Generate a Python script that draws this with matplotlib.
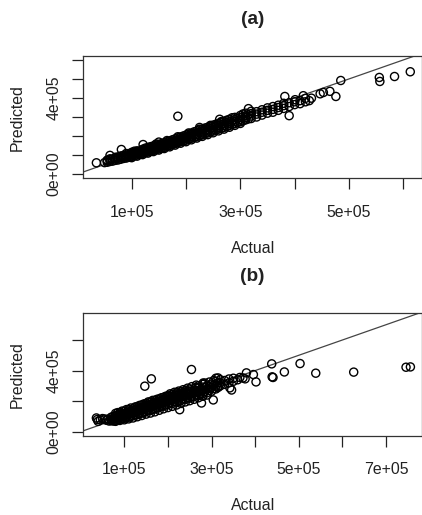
import numpy as np
import matplotlib
matplotlib.use("Agg")
import matplotlib.pyplot as plt

plt.rcParams['font.family'] = ['Liberation Sans', 'DejaVu Sans']

# values, in thousands (actual, predicted)
band_a = [
    (50, 60), (55, 62), (55, 70), (60, 66), (60, 75), (60, 80), (65, 68), (65, 78),
    (70, 72), (70, 80), (70, 88), (75, 74), (75, 84), (75, 90),
    (80, 78), (80, 86), (80, 95), (85, 82), (85, 90), (85, 98),
    (90, 84), (90, 92), (90, 100), (90, 108), (95, 88), (95, 96), (95, 104),
    (100, 92), (100, 100), (100, 108), (100, 114), (105, 96), (105, 104), (105, 112),
    (110, 100), (110, 108), (110, 116), (110, 122), (115, 104), (115, 112), (115, 120),
    (120, 108), (120, 116), (120, 124), (120, 130), (125, 112), (125, 120), (125, 128),
    (130, 116), (130, 124), (130, 132), (130, 140), (135, 120), (135, 128), (135, 136), (135, 144),
    (140, 124), (140, 132), (140, 140), (140, 148), (145, 128), (145, 136), (145, 144), (145, 152),
    (150, 132), (150, 140), (150, 148), (150, 156), (155, 136), (155, 145), (155, 152), (155, 160),
    (160, 140), (160, 150), (160, 157), (160, 165), (165, 146), (165, 154), (165, 162), (165, 170),
    (170, 150), (170, 158), (170, 166), (170, 174), (175, 155), (175, 163), (175, 171), (175, 180),
    (180, 160), (180, 168), (180, 176), (180, 185), (185, 165), (185, 173), (185, 181), (185, 190),
    (190, 170), (190, 178), (190, 186), (190, 195), (195, 174), (195, 183), (195, 191), (195, 200),
    (200, 178), (200, 188), (200, 196), (200, 205), (205, 184), (205, 200), (205, 210),
    (210, 188), (210, 197), (210, 206), (210, 215), (215, 192), (215, 210), (215, 222),
    (220, 197), (220, 206), (220, 216), (220, 226), (225, 202), (225, 220), (225, 232),
    (230, 206), (230, 216), (230, 226), (230, 236), (235, 212), (235, 230), (235, 242),
    (240, 216), (240, 226), (240, 236), (240, 246), (245, 222), (245, 240), (245, 252),
    (250, 226), (250, 236), (250, 246), (250, 257), (255, 232), (255, 250), (255, 262),
    (260, 236), (260, 246), (260, 256), (260, 266), (265, 240), (265, 260), (265, 272),
    (270, 245), (270, 256), (270, 266), (270, 277), (275, 250), (275, 270), (275, 283),
    (280, 255), (280, 266), (280, 276), (280, 288), (285, 262), (285, 280),
    (290, 265), (290, 276), (290, 287), (290, 298), (295, 272), (295, 292),
    (300, 275), (300, 286), (300, 297), (300, 308), (305, 280), (305, 302),
    (310, 285), (310, 296), (310, 307), (310, 320), (315, 290), (315, 312),
    (320, 292), (320, 305), (320, 318), (320, 330), (330, 300), (330, 315), (330, 328),
    (340, 310), (340, 325), (340, 338), (350, 320), (350, 335), (350, 348),
    (360, 325), (360, 340), (360, 355), (370, 335), (370, 350), (370, 362),
    (380, 345), (380, 360), (380, 372), (390, 355), (390, 375), (400, 365), (400, 380),
    (410, 370), (410, 386), (420, 380), (420, 398),
]
# lower and upper rims of the dense band
edges_a = [
    (100, 86), (110, 94), (120, 102), (130, 110), (140, 118), (150, 126), (160, 134),
    (170, 143), (180, 152), (190, 162), (200, 170), (210, 180), (220, 189), (230, 198),
    (240, 207), (250, 217), (260, 227), (270, 236), (280, 246), (290, 256), (300, 266),
    (105, 120), (125, 136), (145, 158), (165, 176), (185, 196), (205, 216), (225, 236),
    (245, 256), (265, 276), (285, 296), (305, 316),
]
outliers_a = [
    (35, 59), (55, 73), (60, 98), (81, 129), (121, 155), (150, 168), (185, 304),
    (225, 245), (262, 288), (315, 344),
    (382, 408), (390, 307), (401, 391), (416, 412), (427, 386), (431, 399),
    (447, 422), (453, 429), (465, 435), (476, 408), (485, 492),
    (556, 508), (557, 487), (584, 513), (613, 538),
]

band_b = [
    (36, 90), (38, 80), (40, 68), (45, 78), (50, 86), (55, 83), (59, 75), (62, 82), (65, 70),
    (70, 72), (70, 82), (70, 95), (75, 70), (75, 85), (75, 100),
    (80, 75), (80, 90), (80, 105), (80, 120), (85, 78), (85, 95), (85, 110),
    (90, 82), (90, 98), (90, 115), (90, 125), (95, 85), (95, 100), (95, 118),
    (100, 88), (100, 105), (100, 120), (100, 135), (105, 92), (105, 110), (105, 125),
    (110, 95), (110, 112), (110, 130), (110, 145), (115, 100), (115, 118), (115, 135),
    (120, 105), (120, 122), (120, 140), (120, 150), (125, 110), (125, 128), (125, 145),
    (130, 112), (130, 132), (130, 150), (130, 165), (135, 118), (135, 138), (135, 155),
    (140, 122), (140, 142), (140, 160), (140, 175), (145, 128), (145, 148), (145, 165),
    (150, 132), (150, 152), (150, 170), (150, 185), (155, 138), (155, 158), (155, 175),
    (160, 140), (160, 162), (160, 180), (160, 195), (165, 145), (165, 168), (165, 185),
    (170, 150), (170, 172), (170, 190), (170, 205), (175, 155), (175, 178), (175, 195),
    (180, 160), (180, 182), (180, 200), (180, 215), (185, 165), (185, 188), (185, 205),
    (190, 170), (190, 192), (190, 210), (190, 225), (195, 175), (195, 198), (195, 215),
    (200, 178), (200, 200), (200, 220), (200, 235), (205, 190), (205, 212), (205, 232),
    (210, 185), (210, 210), (210, 228), (210, 245), (215, 198), (215, 222), (215, 240),
    (220, 195), (220, 218), (220, 238), (220, 255), (225, 205), (225, 230), (225, 250),
    (230, 205), (230, 228), (230, 248), (230, 262), (235, 215), (235, 240), (235, 258),
    (240, 212), (240, 236), (240, 256), (240, 270), (245, 225), (245, 250), (245, 268),
    (250, 220), (250, 245), (250, 265), (250, 280), (255, 232), (255, 258),
    (260, 230), (260, 252), (260, 272), (265, 240), (265, 268), (265, 290),
    (270, 238), (270, 262), (270, 285), (270, 300), (275, 250), (275, 278),
    (280, 248), (280, 270), (280, 292), (280, 310), (285, 262), (285, 288),
    (290, 255), (290, 280), (290, 300), (295, 270), (295, 295),
    (300, 265), (300, 290), (300, 312), (305, 282), (305, 305),
    (310, 280), (310, 300), (310, 330), (310, 350), (315, 295), (315, 320),
    (320, 300), (320, 320), (320, 340), (330, 310), (330, 335), (340, 320), (340, 345),
    (350, 330), (350, 350), (360, 340), (365, 355),
]
edges_b = [
    (80, 68), (90, 74), (100, 78), (110, 84), (120, 90), (130, 98), (140, 106),
    (150, 115), (160, 122), (170, 130), (180, 140), (190, 150), (200, 158), (210, 166),
    (220, 175), (230, 185), (240, 195), (250, 203), (260, 212), (270, 222), (280, 232),
    (290, 240),
    (85, 125), (95, 135), (105, 145), (115, 155), (125, 162), (135, 172), (145, 182),
    (155, 195), (165, 205), (175, 212), (185, 222), (195, 232), (205, 248), (215, 258),
    (225, 266), (235, 275), (245, 285), (255, 295), (265, 305), (285, 318), (295, 325),
    (305, 335),
]
outliers_b = [
    (147, 298), (162, 346), (227, 144), (254, 407), (277, 188), (281, 319), (304, 208),
    (315, 352), (315, 290), (342, 287), (346, 273), (372, 352), (377, 346), (380, 385),
    (396, 374), (402, 326), (438, 444), (439, 359), (441, 355), (467, 391),
    (503, 446), (539, 383), (626, 390), (746, 422), (756, 424),
]

xticks_a = [1e5, 2e5, 3e5, 4e5, 5e5, 6e5]
xlabels_a = ['1e+05', '', '3e+05', '', '5e+05', '']
yticks_a = [0, 1e5, 2e5, 3e5, 4e5, 5e5, 6e5]
ylabels_a = ['0e+00', '', '', '', '4e+05', '', '']
xticks_b = [1e5, 2e5, 3e5, 4e5, 5e5, 6e5, 7e5]
xlabels_b = ['1e+05', '', '3e+05', '', '5e+05', '', '7e+05']
yticks_b = [0, 2e5, 4e5, 6e5]
ylabels_b = ['0e+00', '', '4e+05', '']

ink = '#222222'
fs = 11.4


def split(pairs):
    arr = np.array(pairs, dtype=float) * 1000
    return arr[:, 0], arr[:, 1]


def panel(ax, pairs, title, xlim, ylim, xt, xl, yt, yl):
    actual, predicted = split(pairs)
    ax.scatter(actual, predicted, s=34, facecolors='none', edgecolors='black',
               linewidths=1.0, zorder=3)
    ax.axline((0, 0), slope=1, color='#444444', lw=0.9, zorder=2)
    ax.set_xlim(*xlim)
    ax.set_ylim(*ylim)
    ax.set_xticks(xt)
    ax.set_xticklabels(xl)
    ax.set_yticks(yt)
    ax.set_yticklabels(yl, rotation=90, va='center')
    ax.tick_params(axis='both', direction='out', length=8, width=0.9,
                   colors=ink, labelsize=fs)
    ax.tick_params(axis='x', pad=11)
    ax.tick_params(axis='y', pad=7.5)
    for sp in ax.spines.values():
        sp.set_color('#333333')
        sp.set_linewidth(0.9)
    ax.set_title(title, fontsize=13.7, fontweight='bold', color=ink, pad=23)
    ax.set_xlabel('Actual', fontsize=fs, color=ink, va='center')
    ax.xaxis.set_label_coords(0.5, -0.57)
    ax.set_ylabel('Predicted', fontsize=fs, color=ink, va='center')
    ax.yaxis.set_label_coords(-0.195, 0.5)


fig = plt.figure(figsize=(4.22, 5.15), dpi=100)
ax_a = fig.add_axes([0.1974, 0.6538, 0.8026, 0.2375])
ax_b = fig.add_axes([0.1974, 0.154, 0.8026, 0.2377])

panel(ax_a, band_a + edges_a + outliers_a, '(a)', (0.109e5, 6.346e5), (-0.225e5, 6.21e5),
      xticks_a, xlabels_a, yticks_a, ylabels_a)
panel(ax_b, band_b + edges_b + outliers_b, '(b)', (0.06e5, 7.826e5), (-0.26e5, 7.75e5),
      xticks_b, xlabels_b, yticks_b, ylabels_b)

fig.savefig('out.png', dpi=100)
